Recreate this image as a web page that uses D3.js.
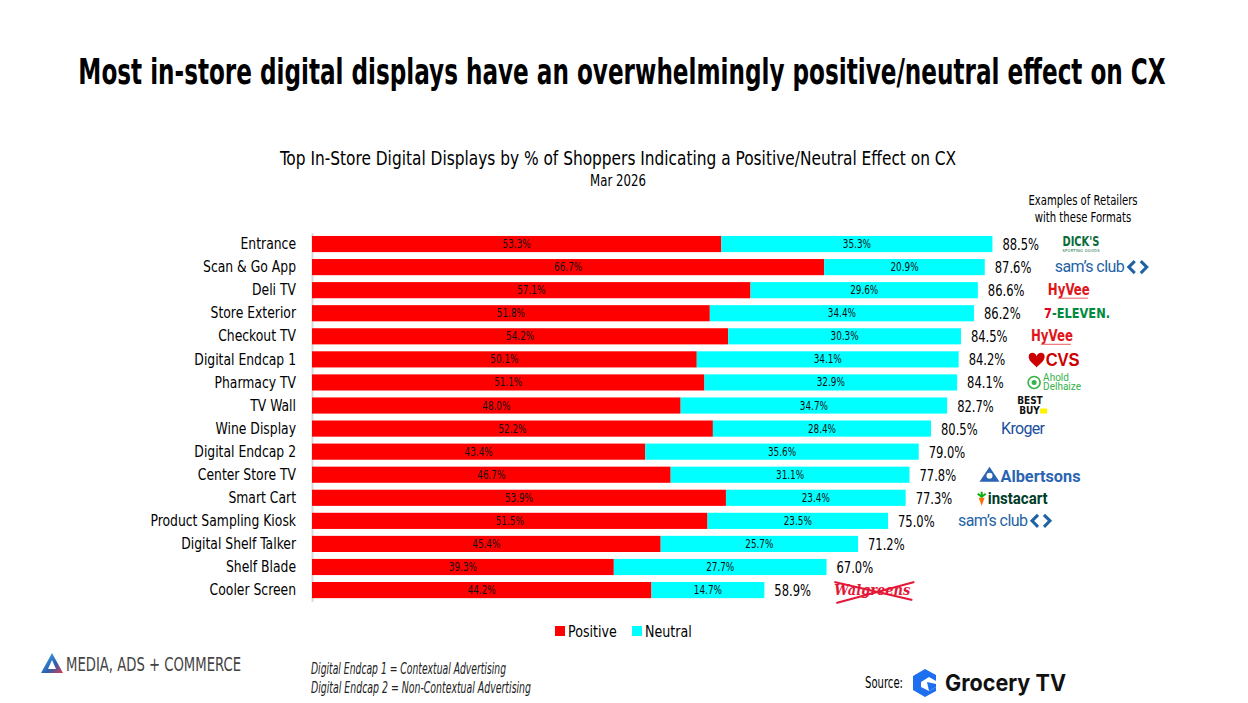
<!DOCTYPE html>
<html>
<head>
<meta charset="utf-8">
<script src="https://cdn.jsdelivr.net/npm/d3@7"></script>
<style>
  body { margin: 0; background: #fff; }
  text { font-family: "Liberation Sans Narrow", "DejaVu Sans Condensed", "Roboto", sans-serif; }
</style>
</head>
<body>
<svg width="1248" height="703"></svg>
<script>

var categories = ["Entrance", "Scan & Go App", "Deli TV", "Store Exterior", "Checkout TV",
  "Digital Endcap 1", "Pharmacy TV", "TV Wall", "Wine Display", "Digital Endcap 2",
  "Center Store TV", "Smart Cart", "Product Sampling Kiosk", "Digital Shelf Talker",
  "Shelf Blade", "Cooler Screen"];
var positive = [53.3, 66.7, 57.1, 51.8, 54.2, 50.1, 51.1, 48.0, 52.2, 43.4, 46.7, 53.9, 51.5, 45.4, 39.3, 44.2];
var neutral = [35.3, 20.9, 29.6, 34.4, 30.3, 34.1, 32.9, 34.7, 28.4, 35.6, 31.1, 23.4, 23.5, 25.7, 27.7, 14.7];
var totals = [88.5, 87.6, 86.6, 86.2, 84.5, 84.2, 84.1, 82.7, 80.5, 79.0, 77.8, 77.3, 75.0, 71.2, 67.0, 58.9];
var retailers = ["dicks", "sams", "hyvee", "7eleven", "hyvee", "cvs", "ahold", "bestbuy", "kroger", "",
  "albertsons", "instacart", "sams", "", "", "walgreens"];
var seriesNames = ["Positive", "Neutral"];
var seriesColors = ["#ff0000", "#00ffff"];

var svg = d3.select("svg");

// squeeze text horizontally so the wide fallback font looks condensed
function condense(sel, f) {
  sel.each(function() {
    var w = this.getComputedTextLength();
    d3.select(this).attr("textLength", w * f).attr("lengthAdjust", "spacingAndGlyphs");
  });
}

var x = d3.scaleLinear().domain([0, 100]).range([312, 1080]);
var y = d3.scaleBand().domain(categories).range([232.5, 601.6]).paddingInner(0.3).paddingOuter(0.15);

// titles
var titleG = svg.append("g");
var title = titleG.append("text").attr("x", 0).attr("y", 0).attr("text-anchor", "middle")
  .attr("font-size", 36).attr("font-weight", "bold").attr("fill", "#000")
  .text("Most in-store digital displays have an overwhelmingly positive/neutral effect on CX");
var tw = title.node().getComputedTextLength();
titleG.attr("transform", "translate(622,84) scale(" + (1088 / tw) + ",1)");

svg.append("text").attr("x", 618).attr("y", 165).attr("text-anchor", "middle")
  .attr("font-size", 19).attr("fill", "#000")
  .text("Top In-Store Digital Displays by % of Shoppers Indicating a Positive/Neutral Effect on CX")
  .call(condense, 0.9);
svg.append("text").attr("x", 618).attr("y", 186).attr("text-anchor", "middle")
  .attr("font-size", 15).attr("fill", "#000").text("Mar 2026").call(condense, 0.87);

svg.append("text").attr("x", 1083).attr("y", 205).attr("text-anchor", "middle")
  .attr("font-size", 14).text("Examples of Retailers").call(condense, 0.8);
svg.append("text").attr("x", 1083).attr("y", 222).attr("text-anchor", "middle")
  .attr("font-size", 14).text("with these Formats").call(condense, 0.8);

// axis
var yAxis = svg.append("g").attr("transform", "translate(" + x(0) + ",0)")
  .call(d3.axisLeft(y).tickSize(0).tickPadding(16));
yAxis.select(".domain").attr("stroke", "#d9d9d9").attr("stroke-width", 2);
yAxis.selectAll("text").attr("font-size", 16).attr("fill", "#000")
  .style("font-family", "'Liberation Sans Narrow', 'DejaVu Sans Condensed', sans-serif")
  .call(condense, 0.86);

// bars
var rows = categories.map(function(c, i) {
  return { cat: c, p: positive[i], n: neutral[i], t: totals[i], r: retailers[i] };
});

var rowG = svg.selectAll(".row").data(rows).enter().append("g").attr("class", "row");

rowG.append("rect").attr("x", x(0)).attr("y", function(d) { return y(d.cat); })
  .attr("width", function(d) { return x(d.p) - x(0); })
  .attr("height", y.bandwidth()).attr("fill", seriesColors[0]);
rowG.append("rect").attr("x", function(d) { return x(d.p); }).attr("y", function(d) { return y(d.cat); })
  .attr("width", function(d) { return x(d.p + d.n) - x(d.p); })
  .attr("height", y.bandwidth()).attr("fill", seriesColors[1]);

rowG.append("text").attr("x", function(d) { return (x(0) + x(d.p)) / 2; })
  .attr("y", function(d) { return y(d.cat) + y.bandwidth() / 2 + 4; })
  .attr("text-anchor", "middle").attr("font-size", 12).attr("fill", "#111")
  .text(function(d) { return d.p.toFixed(1) + "%"; }).call(condense, 0.82);
rowG.append("text").attr("x", function(d) { return (x(d.p) + x(d.p + d.n)) / 2; })
  .attr("y", function(d) { return y(d.cat) + y.bandwidth() / 2 + 4; })
  .attr("text-anchor", "middle").attr("font-size", 12).attr("fill", "#111")
  .text(function(d) { return d.n.toFixed(1) + "%"; }).call(condense, 0.82);
rowG.append("text").attr("x", function(d) { return x(d.p + d.n) + 10; })
  .attr("y", function(d) { return y(d.cat) + y.bandwidth() / 2 + 6; })
  .attr("font-size", 16).attr("fill", "#000")
  .text(function(d) { return d.t.toFixed(1) + "%"; }).call(condense, 0.8);

// retailer logos (drawn as styled text)
rowG.each(function(d) {
  if (!d.r) return;
  var lx = x(d.p + d.n) + 70;
  var cy = y(d.cat) + y.bandwidth() / 2;
  var g = d3.select(this).append("g").attr("transform", "translate(" + lx + "," + cy + ")");
  drawLogo(g, d.r);
});

function drawLogo(g, name) {
  var sans = "Roboto, 'Noto Sans', sans-serif";
  if (name === "dicks") {
    var t = g.append("text").attr("fill", "#0b6b3a");
    t.append("tspan").attr("x", 0).attr("y", 2).attr("font-size", 14).attr("font-weight", "bold")
      .style("font-family", "'DejaVu Sans Condensed', sans-serif")
      .attr("textLength", 37).attr("lengthAdjust", "spacingAndGlyphs").text("DICK'S");
    t.append("tspan").attr("x", 0).attr("y", 8).attr("font-size", 4)
      .attr("textLength", 37).text("SPORTING GOODS");
  } else if (name === "sams") {
    g.append("text").attr("x", 0).attr("y", 5).attr("font-size", 16).attr("fill", "#1f63a6")
      .style("font-family", sans).attr("textLength", 70).text("sam\u2019s club");
    g.append("path").attr("d", "M80,-6 L74,0 L80,6 M86,-6 L92,0 L86,6")
      .attr("fill", "none").attr("stroke", "#1f63a6").attr("stroke-width", 3);
  } else if (name === "hyvee") {
    g.append("text").attr("x", 0).attr("y", 5).attr("font-size", 15).attr("font-weight", "bold")
      .attr("fill", "#e0161d").style("font-family", "'DejaVu Sans Condensed', sans-serif")
      .attr("textLength", 42).attr("lengthAdjust", "spacingAndGlyphs").text("HyVee");
    g.append("line").attr("x1", 10).attr("x2", 40).attr("y1", 8).attr("y2", 8)
      .attr("stroke", "#e0161d").attr("stroke-width", 0.7);
  } else if (name === "7eleven") {
    g.append("text").attr("x", 0).attr("y", 5).attr("font-size", 14).attr("font-weight", "bold")
      .style("font-family", "'DejaVu Sans', sans-serif").attr("textLength", 66).attr("lengthAdjust", "spacingAndGlyphs")
      .call(function(t) {
        t.append("tspan").attr("fill", "#e3001b").text("7");
        t.append("tspan").attr("fill", "#008a3e").text("-ELEVEN.");
      });
  } else if (name === "cvs") {
    g.append("path").attr("d", "M0,-3 C0,-8 7,-8 8,-3 C9,-8 16,-8 16,-3 C16,2 10,5 8,8 C6,5 0,2 0,-3 Z")
      .attr("fill", "#cc0000");
    g.append("text").attr("x", 17).attr("y", 7).attr("font-size", 18).attr("font-weight", "bold")
      .attr("fill", "#cc0000").style("font-family", "'Liberation Sans', Arial, sans-serif")
      .attr("textLength", 34).attr("lengthAdjust", "spacingAndGlyphs").text("CVS");
  } else if (name === "ahold") {
    g.append("circle").attr("cx", 7).attr("cy", 0).attr("r", 6).attr("fill", "none")
      .attr("stroke", "#35b34a").attr("stroke-width", 1.6);
    g.append("circle").attr("cx", 7).attr("cy", 0).attr("r", 2.5).attr("fill", "#35b34a");
    var a = g.append("text").attr("font-size", 10).attr("fill", "#35b34a").style("font-family", sans);
    a.append("tspan").attr("x", 16).attr("y", -1).text("Ahold");
    a.append("tspan").attr("x", 16).attr("y", 8).text("Delhaize");
  } else if (name === "bestbuy") {
    var b = g.append("text").attr("font-size", 10).attr("font-weight", "bold")
      .attr("fill", "#111").style("font-family", "'DejaVu Sans Condensed', sans-serif");
    b.append("tspan").attr("x", 0).attr("y", -2).text("BEST");
    b.append("tspan").attr("x", 2).attr("y", 8).text("BUY");
    g.append("rect").attr("x", 23).attr("y", 3).attr("width", 7).attr("height", 5).attr("fill", "#fff200");
  } else if (name === "kroger") {
    g.append("text").attr("x", 0).attr("y", 5).attr("font-size", 16).attr("fill", "#1a4f9c")
      .style("font-family", sans).attr("textLength", 44).text("Kroger");
  } else if (name === "albertsons") {
    g.append("path").attr("d", "M0,7 L10,-8 L20,7 Z").attr("fill", "#2a64b3");
    g.append("circle").attr("cx", 10).attr("cy", 1).attr("r", 3).attr("fill", "#fff");
    g.append("text").attr("x", 21).attr("y", 7).attr("font-size", 16).attr("font-weight", "bold")
      .attr("fill", "#2a64b3").style("font-family", sans)
      .attr("textLength", 80).attr("lengthAdjust", "spacingAndGlyphs").text("Albertsons");
  } else if (name === "instacart") {
    g.append("path").attr("d", "M3,0 L9,0 L6,8 Z").attr("fill", "#ff7009");
    g.append("path").attr("d", "M6,0 L6,-6 M2,-4 L6,-1 L10,-4").attr("stroke", "#0aad0a")
      .attr("stroke-width", 2).attr("fill", "none");
    g.append("text").attr("x", 12).attr("y", 6).attr("font-size", 16).attr("font-weight", "bold")
      .attr("fill", "#003d29").style("font-family", sans)
      .attr("textLength", 60).attr("lengthAdjust", "spacingAndGlyphs").text("instacart");
  } else if (name === "walgreens") {
    g.append("text").attr("x", 0).attr("y", 5).attr("font-size", 15).attr("font-weight", "bold")
      .attr("font-style", "italic").attr("fill", "#e31837")
      .style("font-family", "'DejaVu Serif', serif")
      .attr("textLength", 76).attr("lengthAdjust", "spacingAndGlyphs").text("Walgreens");
    g.append("path").attr("d", "M0,-8 L78,10 M2,13 L80,-8")
      .attr("stroke", "#e31837").attr("stroke-width", 2).attr("fill", "none");
  }
}

// legend
var legend = svg.append("g").attr("transform", "translate(555,631)");
var lItems = legend.selectAll("g").data(seriesNames).enter().append("g")
  .attr("transform", function(d, i) { return "translate(" + (i * 77) + ",0)"; });
lItems.append("rect").attr("x", 0).attr("y", -5).attr("width", 10).attr("height", 10)
  .attr("fill", function(d, i) { return seriesColors[i]; });
lItems.append("text").attr("x", 13).attr("y", 6).attr("font-size", 16).attr("fill", "#000")
  .text(function(d) { return d; }).call(condense, 0.88);

// footer: logo left
var mac = svg.append("g").attr("transform", "translate(40,664)");
var grad = svg.append("defs").append("linearGradient").attr("id", "macg")
  .attr("x1", "0").attr("y1", "0").attr("x2", "1").attr("y2", "1");
grad.append("stop").attr("offset", "0").attr("stop-color", "#3fb6e8");
grad.append("stop").attr("offset", "0.6").attr("stop-color", "#2a5fb0");
grad.append("stop").attr("offset", "1").attr("stop-color", "#e23b4d");
mac.append("path").attr("d", "M12,-11 L23,9 L1,9 Z M12,-4 L8,5 L16,5 Z")
  .attr("fill", "url(#macg)").attr("fill-rule", "evenodd");
mac.append("text").attr("x", 26).attr("y", 7).attr("font-size", 19).attr("fill", "#444")
  .attr("textLength", 175).attr("lengthAdjust", "spacingAndGlyphs").text("MEDIA, ADS + COMMERCE");

// footnotes
svg.append("text").attr("x", 311).attr("y", 674).attr("font-size", 15).attr("font-style", "italic")
  .attr("fill", "#222").attr("textLength", 195).attr("lengthAdjust", "spacingAndGlyphs")
  .text("Digital Endcap 1 = Contextual Advertising");
svg.append("text").attr("x", 311).attr("y", 693).attr("font-size", 15).attr("font-style", "italic")
  .attr("fill", "#222").attr("textLength", 220).attr("lengthAdjust", "spacingAndGlyphs")
  .text("Digital Endcap 2 = Non-Contextual Advertising");

// source
svg.append("text").attr("x", 865).attr("y", 688).attr("font-size", 15).attr("fill", "#000")
  .attr("textLength", 38).attr("lengthAdjust", "spacingAndGlyphs").text("Source:");
var gtv = svg.append("g").attr("transform", "translate(925,682)");
gtv.append("path")
  .attr("d", "M0,-13 L11,-7 L11,-1 L4,-5 L-4,0 L-4,5 L4,9 L11,5 L11,9 L0,15 L-12,8 L-12,-6 Z")
  .attr("fill", "#1e6ff0");
gtv.append("path").attr("d", "M2,0 L11,2 L11,5 L4,9 Z").attr("fill", "#1e6ff0");
svg.append("text").attr("x", 945).attr("y", 691).attr("font-size", 23).attr("font-weight", "bold")
  .attr("fill", "#111").style("font-family", "Inter, Roboto, sans-serif")
  .attr("textLength", 121).attr("lengthAdjust", "spacingAndGlyphs").text("Grocery TV");

</script>
</body>
</html>
